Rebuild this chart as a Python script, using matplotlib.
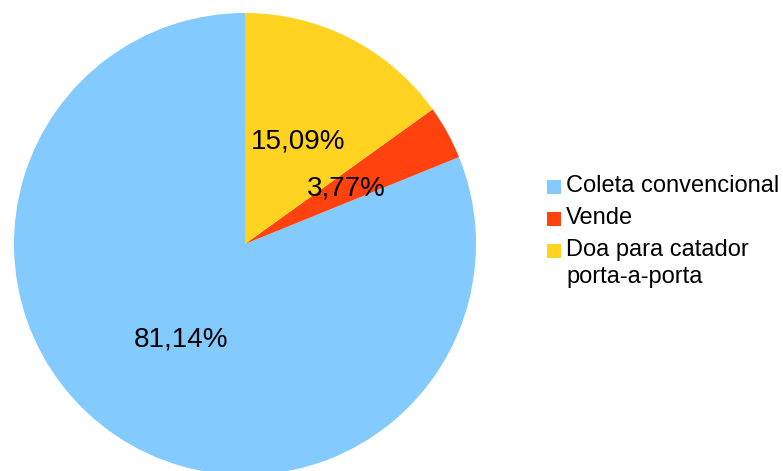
import matplotlib
matplotlib.use('Agg')
import matplotlib.pyplot as plt
from matplotlib.patches import Rectangle

# ---------- Data ----------
categories = ['Coleta convencional', 'Vende', 'Doa para catador\nporta-a-porta']
shares = [81.14, 3.77, 15.09]
colors = ['#83CAFF', '#FF420E', '#FFD320']

plt.rcParams['font.family'] = ['Liberation Sans', 'DejaVu Sans']

W, H = 783, 471
fig = plt.figure(figsize=(W / 100, H / 100), dpi=100)
# pie occupies a square region on the left
ax = fig.add_axes([14 / W, -4 / H, 462 / W, 462 / H])

wedges, _, autotexts = ax.pie(
    shares, colors=colors, startangle=90, counterclock=True,
    autopct=lambda p: f'{p:.2f}%'.replace('.', ','),
    pctdistance=0.5, radius=1.0,
    wedgeprops={'linewidth': 0},
    textprops={'fontsize': 20, 'color': 'black'})
ax.set_xlim(-1, 1)
ax.set_ylim(-1, 1)
ax.set_aspect('equal')

# legend drawn by hand so the wrapped entry keeps its key on the first line
row_centres = [187, 219, 251]
for cat, col, yc in zip(categories, colors, row_centres):
    fig.patches.append(Rectangle((547 / W, 1 - (yc + 7) / H), 14 / W, 14 / H,
                                 transform=fig.transFigure, facecolor=col,
                                 edgecolor='none'))
    fig.text(566 / W, 1 - (yc - 12) / H, cat, fontsize=17, va='top',
             ha='left', linespacing=1.3)

fig.savefig('out.png', dpi=100)
